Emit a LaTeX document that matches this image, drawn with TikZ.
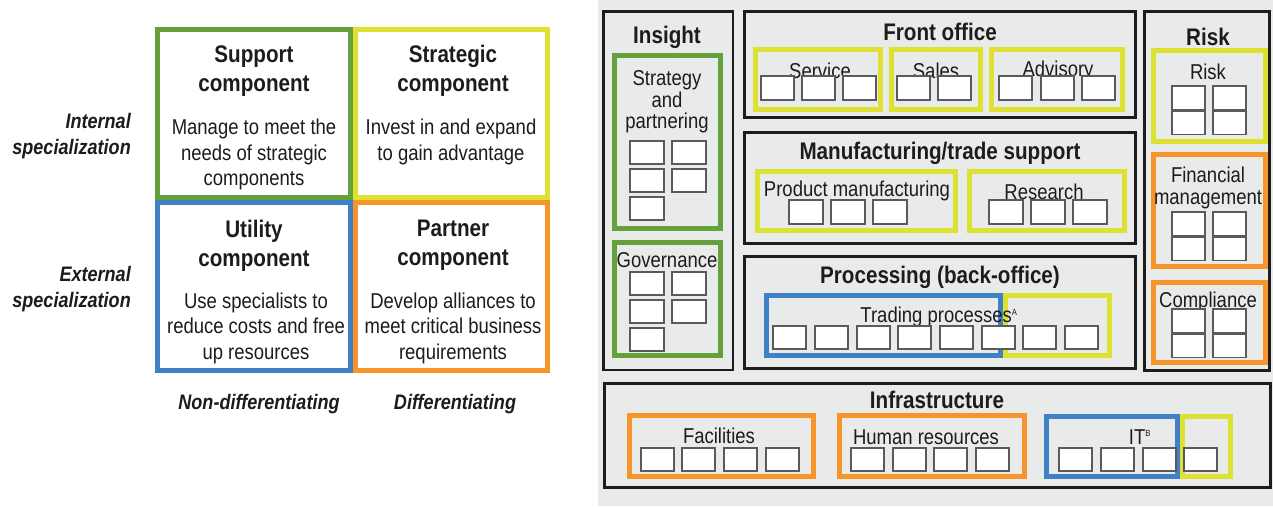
\documentclass[tikz,border=0pt]{standalone}
\usepackage{fontspec}
\setmainfont{Liberation Sans}[FakeStretch=0.86]
\definecolor{cgreen}{HTML}{64A03C}
\definecolor{cyellow}{HTML}{DCE132}
\definecolor{cblue}{HTML}{3F80C6}
\definecolor{corange}{HTML}{F7952B}
\definecolor{cbg}{HTML}{E9EBEA}
\definecolor{cink}{HTML}{1E1B1C}
\definecolor{csq}{HTML}{5A5A5A}
\begin{document}
\begin{tikzpicture}[x=1pt,y=-1pt,
 hd/.style={font=\fontsize{24}{29}\selectfont\bfseries, text=cink, inner sep=0, align=center, yshift=-2pt},
 bd/.style={font=\fontsize{21.5}{25.5}\selectfont, text=cink, inner sep=0, align=center, yshift=-2pt},
 rb/.style={font=\fontsize{21.5}{21.5}\selectfont, text=cink, inner sep=0, align=center, yshift=-2pt},
 lab/.style={font=\fontsize{21}{26}\selectfont\bfseries\itshape, text=cink, inner sep=0, yshift=-2pt},
 panel/.style={draw=cink, line width=2.7},
 grp/.style={draw=#1, line width=5},
 sq/.style={draw=csq, fill=white, line width=1.3},
]
\useasboundingbox (0,0) rectangle (1273,506);
\fill[white] (0,0) rectangle (1273,506);
\fill[cbg] (598,0) rectangle (1273,506);

% ---------- left matrix ----------
\draw[grp=cyellow, fill=white] (355,29.5) rectangle (547.5,197);
\draw[grp=corange, fill=white] (355,202) rectangle (547.5,370.5);
\draw[grp=cgreen, fill=white] (157.5,29.5) rectangle (350,197);
\draw[grp=cblue, fill=white] (157.5,202) rectangle (350,370.5);

\node[hd] (supT) at (254,69) {Support\\component};
\node[bd] (supB) at (254,152.5) {Manage to meet the\\needs of strategic\\components};
\node[hd] (strT) at (453,69) {Strategic\\component};
\node[bd] (strB) at (451,140) {Invest in and expand\\to gain advantage};
\node[hd] (utiT) at (254,243.5) {Utility\\component};
\node[bd] (utiB) at (256,326) {Use specialists to\\reduce costs and free\\up resources};
\node[hd] (parT) at (453,243.5) {Partner\\component};
\node[bd] (parB) at (453,326) {Develop alliances to\\meet critical business\\requirements};

\node[lab, anchor=east, align=right] (intL) at (131,134) {Internal\\specialization};
\node[lab, anchor=east, align=right] (extL) at (131,287) {External\\specialization};
\node[lab] (ndL) at (259,402) {Non-differentiating};
\node[lab] (dL) at (455,402) {Differentiating};

% ---------- right: panels ----------
\draw[panel] (603.5,11.5) rectangle (733,370);
\draw[panel] (744.5,11.5) rectangle (1135.5,117.5);
\draw[panel] (744.5,132.5) rectangle (1135.5,243.5);
\draw[panel] (744.5,256.5) rectangle (1135.5,368.5);
\draw[panel] (1144.5,11.5) rectangle (1269.5,370.5);
\draw[panel] (604.5,383.5) rectangle (1270.5,487.5);

% groups
\draw[grp=cgreen] (614.5,55.5) rectangle (720.5,228.5);
\draw[grp=cgreen] (614.5,242.5) rectangle (720.5,355.5);
\draw[grp=cyellow] (755.5,49.5) rectangle (880.5,109.5);
\draw[grp=cyellow] (891.5,49.5) rectangle (980.5,109.5);
\draw[grp=cyellow] (991.5,49.5) rectangle (1122.5,109.5);
\draw[grp=cyellow] (757.5,171.5) rectangle (955.5,230.5);
\draw[grp=cyellow] (969.5,171.5) rectangle (1124.5,230.5);
\draw[grp=cyellow] (1005.5,295.5) rectangle (1109.5,355.5);
\draw[grp=cblue] (766.5,295.5) rectangle (1000.5,355.5);
\draw[grp=cyellow] (1153.5,50.5) rectangle (1265.5,141.5);
\draw[grp=corange] (1153.5,154.5) rectangle (1265.5,266.5);
\draw[grp=corange] (1153.5,282.5) rectangle (1265.5,362.5);
\draw[grp=corange] (629.5,415.5) rectangle (813.5,476.5);
\draw[grp=corange] (839.5,415.5) rectangle (1024.5,476.5);
\draw[grp=cyellow] (1182.5,416.5) rectangle (1230.5,476.5);
\draw[grp=cblue] (1046.5,416.5) rectangle (1177.5,476.5);

% headings
\node[hd] (insH) at (667,35) {Insight};
\node[hd] (foH) at (940,30) {Front office};
\node[hd] (mfH) at (940,151) {Manufacturing/trade support};
\node[hd] (prH) at (940,275) {Processing (back-office)};
\node[hd] (rkH) at (1208,35) {Risk};
\node[hd] (inH) at (937,398) {Infrastructure};

% group labels
\node[rb] (stL) at (667,100) {Strategy\\and\\partnering};
\node[rb] (gvL) at (667,258) {Governance};
\node[rb] (svL) at (820,69) {Service};
\node[rb] (slL) at (936,69) {Sales};
\node[rb] (adL) at (1058,69) {Advisory};
\node[rb] (pmL) at (857,189) {Product manufacturing};
\node[rb] (rsL) at (1044,190) {Research};
\node[rb] (tpL) at (939,315) {Trading processes\textsuperscript{\fontsize{9}{9}\selectfont A}};
\node[rb] (rkL) at (1208,70) {Risk};
\node[rb, font=\fontsize{21.5}{22}\selectfont] (fmL) at (1208,186) {Financial\\management};
\node[rb] (cpL) at (1208,300) {Compliance};
\node[rb] (fcL) at (719,434) {Facilities};
\node[rb] (hrL) at (926,435) {Human resources};
\node[rb] (itL) at (1140,435) {IT\textsuperscript{\fontsize{9}{9}\selectfont B}};

% squares
\foreach \x/\y in {630/141,672/141,630/169,672/169,630/197,
                   630/272,672/272,630/300,672/300,630/328}
  \draw[sq] (\x,\y) rectangle ++(34,23);
\foreach \x in {761,802,843,897,938,999,1041,1082}
  \draw[sq] (\x,76) rectangle ++(33,24);
\foreach \x in {789,831,873,989,1031,1073}
  \draw[sq] (\x,200) rectangle ++(34,24);
\foreach \x in {773,815,857,898,940,982,1023,1065}
  \draw[sq] (\x,326) rectangle ++(33,23);
\foreach \y in {86,111,212,237,309,334}
  \foreach \x in {1172,1213}
    \draw[sq] (\x,\y) rectangle ++(33,23.5);
\foreach \x in {641,682,724,766,851,893,934,976,1059,1101,1143,1184}
  \draw[sq] (\x,448) rectangle ++(33,23);
\end{tikzpicture}
\end{document}
